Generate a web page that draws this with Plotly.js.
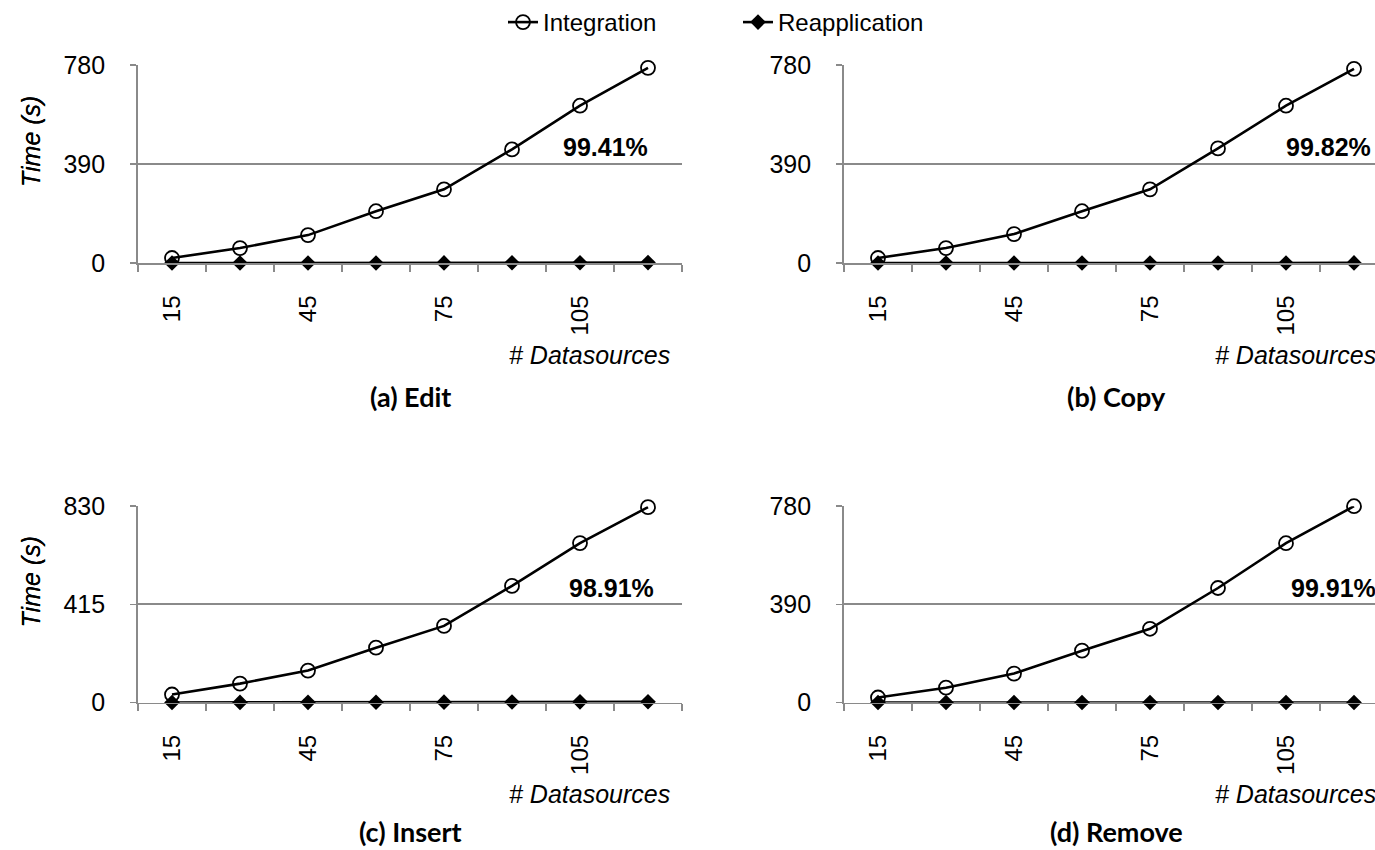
<!DOCTYPE html>
<html>
<head>
<meta charset="utf-8">
<script src="https://cdn.plot.ly/plotly-3.0.1.min.js"></script>
<style>
html,body{margin:0;padding:0;overflow:hidden;background:#fff;}
#chart{width:1400px;height:850px;}
</style>
</head>
<body>
<div id="chart"></div>
<script>
// ---- data ----
const datasources = ['15','30','45','60','75','90','105','120'];
const tickLabels = ['15','','45','','75','','105',''];
const panelTitles = ['(a) Edit','(b) Copy','(c) Insert','(d) Remove'];
const percentLabels = ['99.41%','99.82%','98.91%','99.91%'];
const yMax = [780, 780, 830, 780];

const integrationEdit   = [20, 59, 110, 204, 290, 447, 619, 768];
const integrationCopy   = [20, 59, 114, 204, 290, 451, 619, 764];
const integrationInsert = [34, 80, 135, 232, 324, 493, 674, 826];
const integrationRemove = [20, 59, 115, 206, 293, 455, 633, 780];

const reapplicationEdit   = [0.1, 0.2, 0.3, 0.5, 0.7, 1.0, 1.4, 1.8];
const reapplicationCopy   = [0.05, 0.08, 0.12, 0.2, 0.25, 0.4, 0.55, 0.7];
const reapplicationInsert = [0.3, 0.5, 0.8, 1.2, 1.6, 2.2, 2.8, 3.4];
const reapplicationRemove = [0.03, 0.05, 0.07, 0.1, 0.14, 0.2, 0.28, 0.35];

const integration = [integrationEdit, integrationCopy, integrationInsert, integrationRemove];
const reapplication = [reapplicationEdit, reapplicationCopy, reapplicationInsert, reapplicationRemove];

// ---- layout geometry (pixels) ----
const W = 1400, H = 850;
const panels = [
  {x0:138, x1:682,  yTop:62,  yBot:261, pctX:605,  pctY:145},
  {x0:844, x1:1388, yTop:62,  yBot:261, pctX:1328, pctY:145},
  {x0:138, x1:682,  yTop:505, yBot:702, pctX:611,  pctY:587},
  {x0:844, x1:1388, yTop:505, yBot:702, pctX:1333, pctY:587}
];
const px = v => v / W;
const py = v => 1 - v / H;
const GRAY = '#8a8a8a';
const FONT = 'Liberation Sans, Arial, sans-serif';

const traces = [];
const layout = {
  width: W, height: H,
  margin: {l:0, r:0, t:0, b:0},
  paper_bgcolor: '#fff', plot_bgcolor: '#fff',
  font: {family: FONT, size: 24, color: '#000'},
  showlegend: true,
  legend: {orientation:'h', x:px(503), xanchor:'left', y:1.004, yanchor:'top',
           font:{family:FONT, size:24, color:'#000'},
           entrywidth:190, entrywidthmode:'pixels', tracegroupgap:0,
           bgcolor:'rgba(0,0,0,0)'},
  annotations: []
};

panels.forEach((p, i) => {
  const n = i === 0 ? '' : String(i + 1);
  const xa = 'x' + n, ya = 'y' + n;
  traces.push({
    x: datasources, y: integration[i], xaxis: xa, yaxis: ya,
    type: 'scatter', mode: 'lines+markers', name: 'Integration',
    showlegend: i === 0, cliponaxis: false,
    line: {color:'#000', width:2.6},
    marker: {symbol:'circle-open', size:14, color:'#000', line:{color:'#000', width:1.8}}
  });
  traces.push({
    x: datasources, y: reapplication[i], xaxis: xa, yaxis: ya,
    type: 'scatter', mode: 'lines+markers', name: 'Reapplication',
    showlegend: i === 0, cliponaxis: false,
    line: {color:'#000', width:2.6},
    marker: {symbol:'diamond', size:12, color:'#000'}
  });
  layout['xaxis' + n] = {
    domain: [px(p.x0), px(p.x1)], anchor: ya, type: 'category',
    range: [-0.5, 7.5], tickmode: 'array', tickvals: datasources, ticktext: tickLabels,
    tickson: 'boundaries', ticks: 'outside', ticklen: 7, tickwidth: 1.5, tickcolor: GRAY,
    ticklabelstandoff: 21,
    showline: true, linecolor: GRAY, linewidth: 1.8, showgrid: false, zeroline: false,
    tickangle: -90, tickfont: {family:FONT, size:24, color:'#000'}, fixedrange: true
  };
  layout['yaxis' + n] = {
    domain: [py(p.yBot), py(p.yTop)], anchor: xa,
    range: [0, yMax[i]], tickmode: 'array', tickvals: [0, yMax[i] / 2, yMax[i]],
    ticks: 'outside', ticklen: 6, tickwidth: 1.5, tickcolor: GRAY,
    ticklabelstandoff: 20,
    showline: true, linecolor: GRAY, linewidth: 1.8,
    showgrid: true, gridcolor: GRAY, gridwidth: 1.8, zeroline: false,
    tickfont: {family:FONT, size:25, color:'#000'}, fixedrange: true
  };
  // y title
  layout.annotations.push({
    xref:'paper', yref:'paper', x: px(31), y: py((p.yTop + p.yBot) / 2 - 23),
    text:'<i>Time (s)</i>', textangle:-90, showarrow:false, xanchor:'center', yanchor:'middle',
    font:{family:FONT, size:25, color:'#000'}
  });
  // x title
  layout.annotations.push({
    xref:'paper', yref:'paper', x: px(p.x0 + 534), y: py(p.yBot + 92),
    text:'<i># Datasources</i>', showarrow:false, xanchor:'right', yanchor:'middle',
    font:{family:FONT, size:25, color:'#000'}
  });
  // percent label
  layout.annotations.push({
    xref:'paper', yref:'paper', x: px(p.pctX), y: py(p.pctY),
    text:'<b>' + percentLabels[i] + '</b>', showarrow:false, xanchor:'center', yanchor:'middle',
    font:{family:FONT, size:25, color:'#000'}
  });
  // panel title
  layout.annotations.push({
    xref:'paper', yref:'paper', x: px(p.x0 + 272), y: py(i < 2 ? 395 : 831),
    text:'<b>' + panelTitles[i] + '</b>', showarrow:false, xanchor:'center', yanchor:'middle',
    font:{family:'Lato, Open Sans, sans-serif', size:27, color:'#000'}
  });
});

Plotly.newPlot('chart', traces, layout, {displayModeBar:false, staticPlot:true});
</script>
</body>
</html>
